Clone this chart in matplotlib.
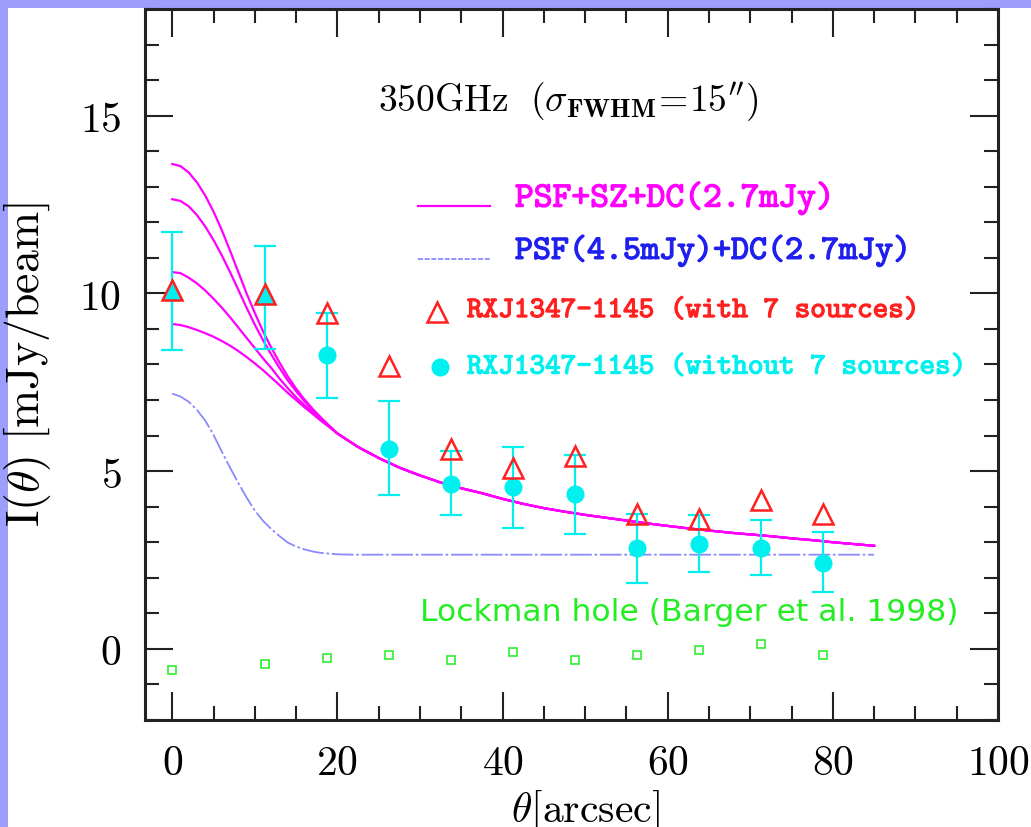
import matplotlib
matplotlib.use('Agg')
import matplotlib.pyplot as plt
import matplotlib.patheffects as pe
from matplotlib.patches import Rectangle
from matplotlib.ticker import MultipleLocator, FuncFormatter

plt.rcParams['mathtext.fontset'] = 'cm'

# data points (theta in arcsec)
theta_pts = [0, 11.25, 18.75, 26.25, 33.75, 41.25, 48.75, 56.25, 63.75, 71.25, 78.75]
with_src = [10.1, 9.97, 9.45, 7.95, 5.62, 5.08, 5.42, 3.79, 3.66, 4.2, 3.79]
without_src = [10.1, 9.97, 8.28, 5.62, 4.63, 4.55, 4.35, 2.85, 2.94, 2.85, 2.43]
err_lo = [1.68, 1.53, 1.22, 1.30, 0.87, 1.16, 1.13, 0.99, 0.79, 0.76, 0.82]
err_hi = [1.62, 1.36, 1.17, 1.36, 0.95, 1.13, 1.10, 0.95, 0.82, 0.77, 0.87]
lockman = [-0.59, -0.42, -0.25, -0.16, -0.31, -0.08, -0.31, -0.18, -0.03, 0.14, -0.16]

# model curves: separate heads (theta 0..19), shared tail (theta >= 20)
head_theta = list(range(20))
head_1 = [13.64, 13.58, 13.4, 13.12, 12.75, 12.3, 11.78, 11.2, 10.6, 10.0,
          9.45, 8.93, 8.47, 8.05, 7.66, 7.32, 7.02, 6.75, 6.51, 6.28]
head_2 = [12.65, 12.6, 12.45, 12.2, 11.88, 11.5, 11.07, 10.6, 10.1, 9.6,
          9.12, 8.68, 8.28, 7.9, 7.55, 7.25, 6.97, 6.72, 6.49, 6.27]
head_3 = [10.6, 10.57, 10.44, 10.28, 10.08, 9.85, 9.6, 9.33, 9.04, 8.75,
          8.46, 8.17, 7.9, 7.6, 7.33, 7.08, 6.86, 6.65, 6.45, 6.26]
head_4 = [9.14, 9.11, 9.05, 8.97, 8.88, 8.78, 8.66, 8.53, 8.38, 8.21,
          8.03, 7.84, 7.63, 7.42, 7.2, 7.0, 6.8, 6.61, 6.42, 6.24]
tail_theta = [20, 22.5, 25, 27.5, 30, 32.5, 35, 37.5, 40, 42.5, 45, 47.5, 50, 52.5,
              55, 57.5, 60, 62.5, 65, 67.5, 70, 72.5, 75, 77.5, 80, 82.5, 85]
tail_val = [6.06, 5.68, 5.37, 5.1, 4.88, 4.68, 4.52, 4.38, 4.22, 4.08, 3.96, 3.86, 3.77, 3.69,
            3.61, 3.53, 3.46, 3.39, 3.33, 3.27, 3.22, 3.17, 3.11, 3.06, 3.0, 2.95, 2.9]
psf_theta = [0, 1, 2, 3, 4, 5, 6, 7, 8, 9, 10, 11, 12, 13, 14, 15, 16, 17, 18, 20, 22,
             25, 30, 40, 50, 60, 70, 80, 85]
psf_val = [7.18, 7.1, 6.95, 6.72, 6.42, 6.02, 5.55, 5.1, 4.67, 4.26, 3.89, 3.6, 3.37, 3.17,
           2.99, 2.88, 2.8, 2.74, 2.7, 2.66, 2.65, 2.65, 2.65, 2.65, 2.65, 2.65, 2.65, 2.65, 2.65]

fig = plt.figure(figsize=(10.31, 8.27), dpi=100, facecolor='#9d9dfb')
fig.patches.append(Rectangle((8/1031., 0), 1, (827-8)/827., transform=fig.transFigure,
                             facecolor='white', edgecolor='none', zorder=-5))
ax = fig.add_axes([145/1031., (827-720)/827., (998-145)/1031., (720-9)/827.])
ax.set_facecolor('none')

for h in [head_1, head_2, head_3, head_4]:
    ax.plot(head_theta + tail_theta, h + tail_val, color='#ff00ff', lw=1.6, zorder=3)
ax.plot(psf_theta, psf_val, color='#8a8aff', lw=1.3, ls=(0, (12, 1.5, 1.5, 1.5)), zorder=3)

ax.errorbar(theta_pts, without_src, yerr=[err_lo, err_hi], fmt='none', ecolor='#00f0f0',
            elinewidth=1.6, capsize=8, capthick=1.6, zorder=4)
ax.plot(theta_pts[:2], without_src[:2], ls='none', marker='^', ms=14, color='#00f0f0', zorder=5)
ax.plot(theta_pts[2:], without_src[2:], ls='none', marker='o', ms=12, color='#00f0f0', zorder=5)
ax.plot(theta_pts, with_src, ls='none', marker='^', ms=14, mfc='none', mec='#ff2020', mew=1.8, zorder=6)
ax.plot(theta_pts, lockman, ls='none', marker='s', ms=6, mfc='none', mec='#30ee30', mew=1.2, zorder=4)

# labels inside the plot
ax.text(24.9, 15.4, r'$\mathrm{350GHz}\ \ (\sigma_{\mathbf{FWHM}}\!=\!15^{\prime\prime})$',
        fontsize=27, va='center', ha='left')


def tt(x, y, s, c, size):
    ax.text(x, y, s, color=c, fontsize=size, family='cmtt10', va='center',
            path_effects=[pe.withStroke(linewidth=0.9, foreground=c)])


ax.plot([29.8, 38.5], [12.46, 12.46], color='#ff00ff', lw=1.6)
tt(41.5, 12.68, 'PSF+SZ+DC(2.7mJy)', '#ff00ff', 25.8)
ax.plot([29.8, 38.5], [10.96, 10.96], color='#8080ff', lw=1.2, ls=(0, (3, 1)))
tt(41.5, 11.19, 'PSF(4.5mJy)+DC(2.7mJy)', '#2020ee', 24.7)
ax.plot([32.1], [9.49], ls='none', marker='^', ms=14, mfc='none', mec='#ff2020', mew=1.8)
tt(35.7, 9.49, 'RXJ1347-1145 (with 7 sources)', '#ff2020', 21.4)
ax.plot([32.4], [7.94], ls='none', marker='o', ms=12, color='#00f0f0')
tt(35.7, 7.9, 'RXJ1347-1145 (without 7 sources)', '#00f0f0', 21.4)
ax.text(30.0, 1.02, 'Lockman hole (Barger et al. 1998)', color='#22ee22', fontsize=22.6,
        family='DejaVu Sans', va='center')

ax.set_xlim(-3.3, 100)
ax.set_ylim(-2, 18)
ax.xaxis.set_major_locator(MultipleLocator(20))
ax.xaxis.set_minor_locator(MultipleLocator(5))
ax.yaxis.set_major_locator(MultipleLocator(5))
ax.yaxis.set_minor_locator(MultipleLocator(1))
fmt = FuncFormatter(lambda v, p: r'$%g$' % v)
ax.xaxis.set_major_formatter(fmt)
ax.yaxis.set_major_formatter(fmt)
ax.tick_params(which='both', direction='in', top=True, right=True, width=1.5, color='#222222')
ax.tick_params(which='major', length=20)
ax.tick_params(which='minor', length=10)
ax.tick_params(axis='x', pad=16, labelsize=30)
ax.tick_params(axis='y', pad=17, labelsize=30)
for s in ax.spines.values():
    s.set_linewidth(2.2)
    s.set_color('#222222')

ax.set_ylabel(r'$\mathrm{I}(\theta)\ [\mathrm{mJy/beam}]$', fontsize=33)
ax.yaxis.set_label_coords(-0.108, 0.5)
ax.set_xlabel(r'$\theta[\mathrm{arcsec}]$', fontsize=30)
ax.xaxis.set_label_coords(0.516, -0.096)

fig.savefig('out.png', dpi=100, facecolor=fig.get_facecolor())
